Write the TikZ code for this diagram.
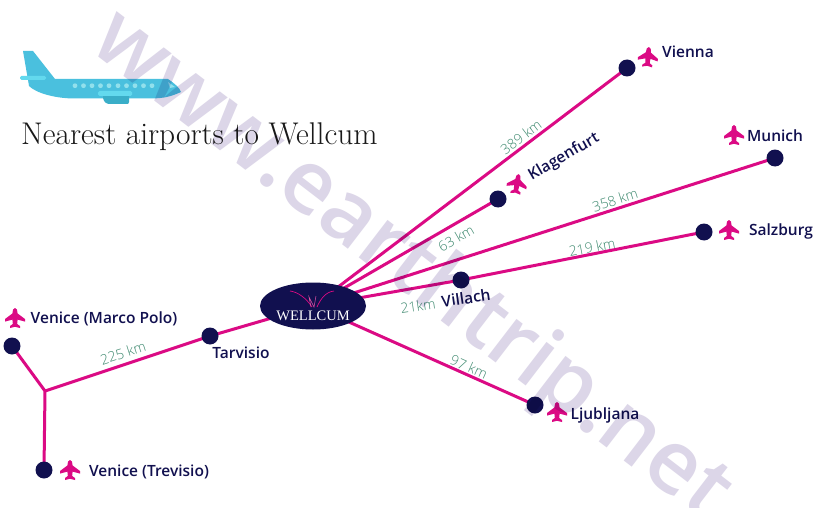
\documentclass[tikz,border=0pt]{standalone}
\usepackage{fontspec}
\usetikzlibrary{shapes.geometric,backgrounds}
\setmainfont{Open Sans Semibold}
\newfontfamily\titlefont{Latin Modern Roman}
\newfontfamily\brandfont{Liberation Serif}
\newfontfamily\lightfont{Open Sans Light}
\definecolor{routepink}{HTML}{DB0A84}
\definecolor{navy}{HTML}{11104F}
\definecolor{distgreen}{HTML}{3F8A70}
\definecolor{markcolor}{HTML}{DCD6E8}
\definecolor{skyblue}{HTML}{4AC0DE}
\definecolor{skylight}{HTML}{63D9EE}
\definecolor{skyteal}{HTML}{3AAEC8}
\definecolor{skywindow}{HTML}{92E0EC}
\tikzset{
  x=1pt,y=-1pt,
  stop/.style={circle,fill=navy,inner sep=0pt,minimum size=17pt},
  route/.style={draw=routepink,line width=3pt},
  place/.style={text=navy,font=\fontsize{15.5}{15.5}\selectfont,inner sep=0pt},
  dist/.style={text=distgreen,font=\lightfont\fontsize{14}{14}\selectfont,inner sep=0pt},
  jet/.pic={
    \fill[routepink,x=1pt,y=-1pt]
      (0,-10) .. controls (1.8,-10) and (2.6,-7.5) .. (2.6,-4.5)
      -- (10,1) -- (10,3.6) -- (2.6,1.6) -- (2.2,6) -- (5,8) -- (5,10)
      -- (0,8.8) -- (-5,10) -- (-5,8) -- (-2.2,6) -- (-2.6,1.6)
      -- (-10,3.6) -- (-10,1) -- (-2.6,-4.5)
      .. controls (-2.6,-7.5) and (-1.8,-10) .. (0,-10) -- cycle;
  }
}
\begin{document}
\begin{tikzpicture}
\useasboundingbox (0,0) rectangle (835,508);

% airports and the central ellipse
\node[ellipse,fill=navy,minimum width=106pt,minimum height=47pt,inner sep=0pt] (wellcum) at (313,306) {};
\node[text=white,font=\brandfont\fontsize{14.5}{14.5}\selectfont,inner sep=0pt] (brand) at (313,316) {WELLCUM};
\node[stop] (vienna) at (627,68) {};
\node[stop] (klagenfurt) at (498,199) {};
\node[stop] (munich) at (775,158) {};
\node[stop] (salzburg) at (704,232) {};
\node[stop] (villach) at (461,280) {};
\node[stop] (ljubljana) at (535,405) {};
\node[stop] (tarvisio) at (210,336) {};
\node[stop] (marco) at (12,346) {};
\node[stop] (trevisio) at (44,470) {};
\coordinate (fork) at (45,391);

% routes run under the nodes
\begin{pgfonlayer}{background}
  \fill[white] (0,0) rectangle (835,508);
  \draw[route] (wellcum.center) -- (vienna.center);
  \draw[route] (wellcum.center) -- (klagenfurt.center);
  \draw[route] (wellcum.center) -- (munich.center);
  \draw[route] (wellcum.center) -- (villach.center) -- (salzburg.center);
  \draw[route] (wellcum.center) -- (ljubljana.center);
  \draw[route] (wellcum.center) -- (tarvisio.center) -- (fork);
  \draw[route] (marco.center) -- (fork) -- (trevisio.center);
\end{pgfonlayer}

% logo swoosh
\draw[routepink,line width=0.7pt] (290,291) .. controls (298,292) and (306,298) .. (312,307);
\draw[routepink,line width=0.7pt] (334,291) .. controls (326,292) and (321,298) .. (317,307);
\draw[routepink!70!white,line width=0.5pt] (311,307) -- (309,297) -- (314,307) -- (316,296);

% aeroplane illustration
\fill[skyblue] (23,51) -- (33,51) -- (55,79) -- (168,79) .. controls (174,83) and (180,88) .. (181,92)
  .. controls (172,96) and (165,98.5) .. (150,98.5) -- (75,98.5) .. controls (55,98.5) and (36,93) .. (29,86) -- (28,80) -- cycle;
\fill[skyteal] (103,96) -- (129,96) -- (129,102) .. controls (129,104) and (128,104) .. (126,104)
  -- (110,104) .. controls (106,104) and (104,102) .. (103,98) -- cycle;
\fill[skylight,rounded corners=1.5pt] (98,91) rectangle (132,96);
\fill[skylight,rounded corners=1.5pt] (20,76) rectangle (46,80);
\foreach \wx in {75,83.5,92,100.5,109,118,126.5,135,143.5,152}
  \fill[skywindow] (\wx,85.7) circle (2.4pt);
\fill[skywindow] (168,82) -- (175,87) -- (170,88) -- cycle;

% heading
\node[anchor=west,inner sep=0pt,text=black!90,font=\titlefont\fontsize{31.4}{31.4}\selectfont] (heading) at (21,137) {Nearest airports to Wellcum};

% airport labels
\pic at (648,57) [rotate=-5] {jet};
\pic at (517,184) [rotate=-10] {jet};
\pic at (734,135) {jet};
\pic at (729,230) {jet};
\pic at (557,412) {jet};
\pic at (15,318) {jet};
\pic at (70,470) {jet};
\node[place] (lvienna) at (688,52) {Vienna};
\node[place,rotate=30] (lklagenfurt) at (564,157) {Klagenfurt};
\node[place] (lmunich) at (775,136) {Munich};
\node[place] (lsalzburg) at (781,231) {Salzburg};
\node[place,rotate=8] (lvillach) at (466,298) {Villach};
\node[place] (lljubljana) at (605,415) {Ljubljana};
\node[place] (ltarvisio) at (241,353) {Tarvisio};
\node[place] (lmarco) at (104,319) {Venice (Marco Polo)};
\node[place] (ltrevisio) at (149,472) {Venice (Trevisio)};

% distances
\node[dist,rotate=37] (d389) at (521,137) {389 km};
\node[dist,rotate=30] (d63) at (456,238) {63 km};
\node[dist,rotate=18] (d358) at (615,200) {358 km};
\node[dist,rotate=11] (d219) at (592,247) {219 km};
\node[dist,rotate=8] (d21) at (418,306) {21km};
\node[dist,rotate=-24] (d97) at (469,367) {97 km};
\node[dist,rotate=18] (d225) at (123,353) {225 km};

% site address across the whole picture
\begin{scope}[blend mode=multiply]
\node[rotate=-37.5,text=markcolor,inner sep=0pt,font=\fontsize{87.5}{87.5}\selectfont] (site) at (410,268) {www.earthtrip.net};
\end{scope}
\end{tikzpicture}
\end{document}
